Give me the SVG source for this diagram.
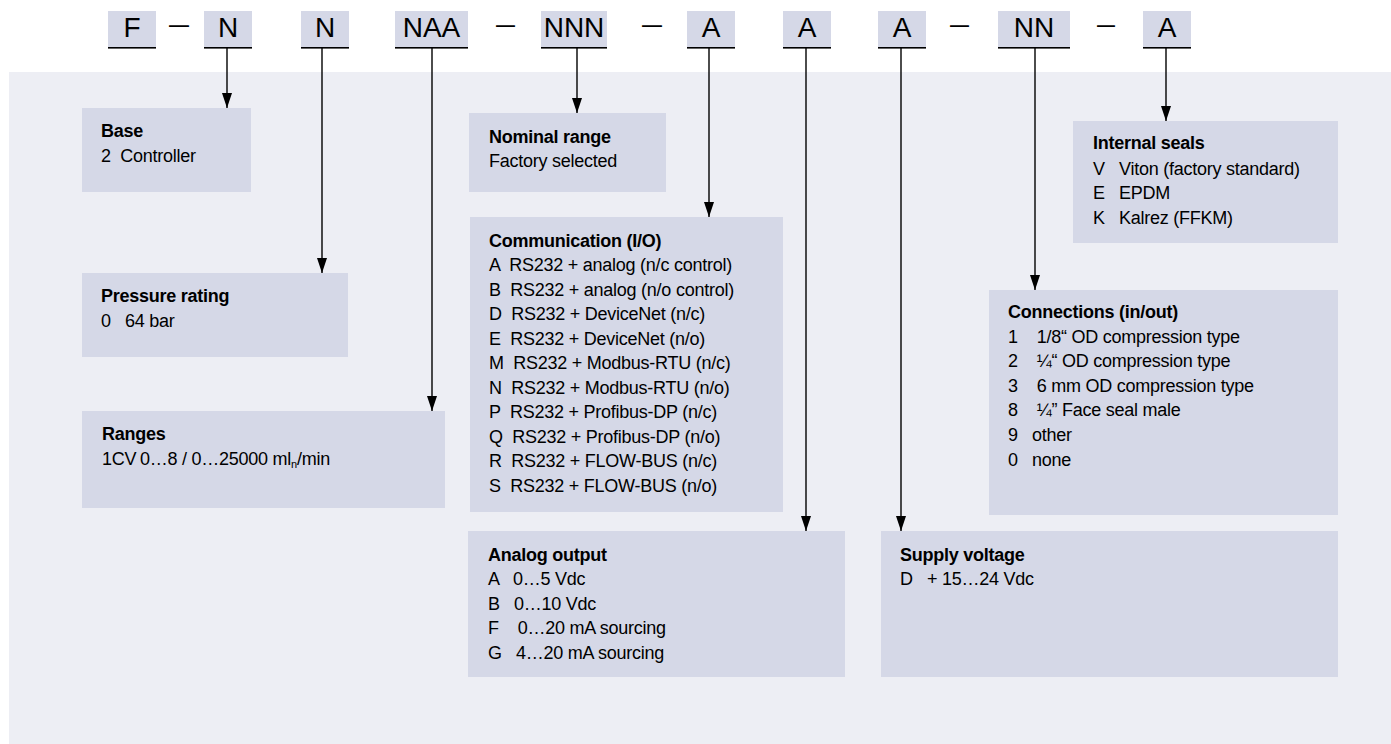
<svg xmlns="http://www.w3.org/2000/svg" width="1391" height="744" viewBox="0 0 1391 744" xml:space="preserve">
<style>
.panel{fill:#EDEEF4}
.box{fill:#D5D8E7}
.hbox{fill:#D5D8E7}
.ul{fill:#000}
.code{font-family:"Liberation Sans",Arial,sans-serif;font-size:28px;fill:#000;text-anchor:middle}
.dash{font-family:"Liberation Sans",Arial,sans-serif;font-size:28px;fill:#000}
.t{font-family:"Liberation Sans",Arial,sans-serif;font-size:18px;letter-spacing:-0.25px;fill:#000;white-space:pre}
.b{font-weight:bold}
.conn line{stroke:#000;stroke-width:1.4;fill:none}
</style>
<defs>
<marker id="ah" viewBox="0 0 15 10" refX="15" refY="5" markerWidth="15" markerHeight="10" markerUnits="userSpaceOnUse" orient="auto">
<path d="M0,0 L15,5 L0,10 z" fill="#000"/>
</marker>
</defs>
<rect class="panel" x="9" y="72" width="1382" height="672"/>

<g id="code">
<g id="c-F"><rect class="hbox" x="108" y="11" width="48" height="37"/><rect class="ul" x="108" y="47" width="48" height="1.6"/><text class="code" x="132" y="37">F</text></g>
<text class="dash" x="169" y="33" textLength="20" lengthAdjust="spacingAndGlyphs">–</text>
<g id="c-N1"><rect class="hbox" x="204" y="11" width="48" height="37"/><rect class="ul" x="204" y="47" width="48" height="1.6"/><text class="code" x="228" y="37">N</text></g>
<g id="c-N2"><rect class="hbox" x="301" y="11" width="48" height="37"/><rect class="ul" x="301" y="47" width="48" height="1.6"/><text class="code" x="325" y="37">N</text></g>
<g id="c-NAA"><rect class="hbox" x="395" y="11" width="73" height="37"/><rect class="ul" x="395" y="47" width="73" height="1.6"/><text class="code" x="431.5" y="37">NAA</text></g>
<text class="dash" x="496" y="33" textLength="19" lengthAdjust="spacingAndGlyphs">–</text>
<g id="c-NNN"><rect class="hbox" x="541" y="11" width="66" height="37"/><rect class="ul" x="541" y="47" width="66" height="1.6"/><text class="code" x="574" y="37">NNN</text></g>
<text class="dash" x="642" y="33" textLength="20" lengthAdjust="spacingAndGlyphs">–</text>
<g id="c-A1"><rect class="hbox" x="687" y="11" width="48" height="37"/><rect class="ul" x="687" y="47" width="48" height="1.6"/><text class="code" x="711" y="37">A</text></g>
<g id="c-A2"><rect class="hbox" x="783" y="11" width="48" height="37"/><rect class="ul" x="783" y="47" width="48" height="1.6"/><text class="code" x="807" y="37">A</text></g>
<g id="c-A3"><rect class="hbox" x="878" y="11" width="48" height="37"/><rect class="ul" x="878" y="47" width="48" height="1.6"/><text class="code" x="902" y="37">A</text></g>
<text class="dash" x="950" y="33" textLength="19" lengthAdjust="spacingAndGlyphs">–</text>
<g id="c-NN"><rect class="hbox" x="998" y="11" width="72" height="37"/><rect class="ul" x="998" y="47" width="72" height="1.6"/><text class="code" x="1034" y="37">NN</text></g>
<text class="dash" x="1097" y="33" textLength="18" lengthAdjust="spacingAndGlyphs">–</text>
<g id="c-A4"><rect class="hbox" x="1143" y="11" width="48" height="37"/><rect class="ul" x="1143" y="47" width="48" height="1.6"/><text class="code" x="1167" y="37">A</text></g>
</g>

<g id="connectors" class="conn">
<line x1="227" y1="48" x2="227" y2="108" marker-end="url(#ah)"/>
<line x1="322" y1="48" x2="322" y2="273" marker-end="url(#ah)"/>
<line x1="432" y1="48" x2="432" y2="411" marker-end="url(#ah)"/>
<line x1="577" y1="48" x2="577" y2="113" marker-end="url(#ah)"/>
<line x1="709" y1="48" x2="709" y2="217" marker-end="url(#ah)"/>
<line x1="806" y1="48" x2="806" y2="531" marker-end="url(#ah)"/>
<line x1="901" y1="48" x2="901" y2="531" marker-end="url(#ah)"/>
<line x1="1035" y1="48" x2="1035" y2="290" marker-end="url(#ah)"/>
<line x1="1166" y1="48" x2="1166" y2="121" marker-end="url(#ah)"/>
</g>

<g id="base">
<rect class="box" x="82" y="108" width="169" height="84"/>
<text class="t b" x="101" y="137">Base</text>
<text class="t" x="101" y="162">2  Controller</text>
</g>

<g id="nominal">
<rect class="box" x="469" y="113" width="197" height="79"/>
<text class="t b" x="489" y="143">Nominal range</text>
<text class="t" x="489" y="167">Factory selected</text>
</g>

<g id="seals">
<rect class="box" x="1073" y="121" width="265" height="122"/>
<text class="t b" x="1093" y="149">Internal seals</text>
<text class="t" x="1093" y="175">V   Viton (factory standard)</text>
<text class="t" x="1093" y="199">E   EPDM</text>
<text class="t" x="1093" y="224">K   Kalrez (FFKM)</text>
</g>

<g id="comm">
<rect class="box" x="470" y="217" width="313" height="295"/>
<text class="t b" x="489" y="247">Communication (I/O)</text>
<text class="t" x="489" y="271">A  RS232 + analog (n/c control)</text>
<text class="t" x="489" y="296">B  RS232 + analog (n/o control)</text>
<text class="t" x="489" y="320">D  RS232 + DeviceNet (n/c)</text>
<text class="t" x="489" y="345">E  RS232 + DeviceNet (n/o)</text>
<text class="t" x="489" y="369">M  RS232 + Modbus-RTU (n/c)</text>
<text class="t" x="489" y="394">N  RS232 + Modbus-RTU (n/o)</text>
<text class="t" x="489" y="418">P  RS232 + Profibus-DP (n/c)</text>
<text class="t" x="489" y="443">Q  RS232 + Profibus-DP (n/o)</text>
<text class="t" x="489" y="467">R  RS232 + FLOW-BUS (n/c)</text>
<text class="t" x="489" y="492">S  RS232 + FLOW-BUS (n/o)</text>
</g>

<g id="pressure">
<rect class="box" x="82" y="273" width="266" height="84"/>
<text class="t b" x="101" y="302">Pressure rating</text>
<text class="t" x="101" y="327">0   64 bar</text>
</g>

<g id="connections">
<rect class="box" x="989" y="290" width="349" height="225"/>
<text class="t b" x="1008" y="318">Connections (in/out)</text>
<text class="t" x="1008" y="343">1    1/8“ OD compression type</text>
<text class="t" x="1008" y="367">2    ¼“ OD compression type</text>
<text class="t" x="1008" y="392">3    6 mm OD compression type</text>
<text class="t" x="1008" y="416">8    ¼” Face seal male</text>
<text class="t" x="1008" y="441">9   other</text>
<text class="t" x="1008" y="466">0   none</text>
</g>

<g id="ranges">
<rect class="box" x="82" y="411" width="363" height="97"/>
<text class="t b" x="102" y="440">Ranges</text>
<text class="t" x="102" y="465">1CV <tspan x="140">0…8 / 0…25000 ml</tspan><tspan font-size="11" dy="3">n</tspan><tspan dy="-3">/min</tspan></text>
</g>

<g id="analog">
<rect class="box" x="468" y="531" width="377" height="146"/>
<text class="t b" x="488" y="561">Analog output</text>
<text class="t" x="488" y="585">A   0…5 Vdc</text>
<text class="t" x="488" y="610">B   0…10 Vdc</text>
<text class="t" x="488" y="634">F    0…20 mA sourcing</text>
<text class="t" x="488" y="659">G   4…20 mA sourcing</text>
</g>

<g id="supply">
<rect class="box" x="881" y="531" width="457" height="146"/>
<text class="t b" x="900" y="561">Supply voltage</text>
<text class="t" x="900" y="585">D   + 15…24 Vdc</text>
</g>
</svg>
